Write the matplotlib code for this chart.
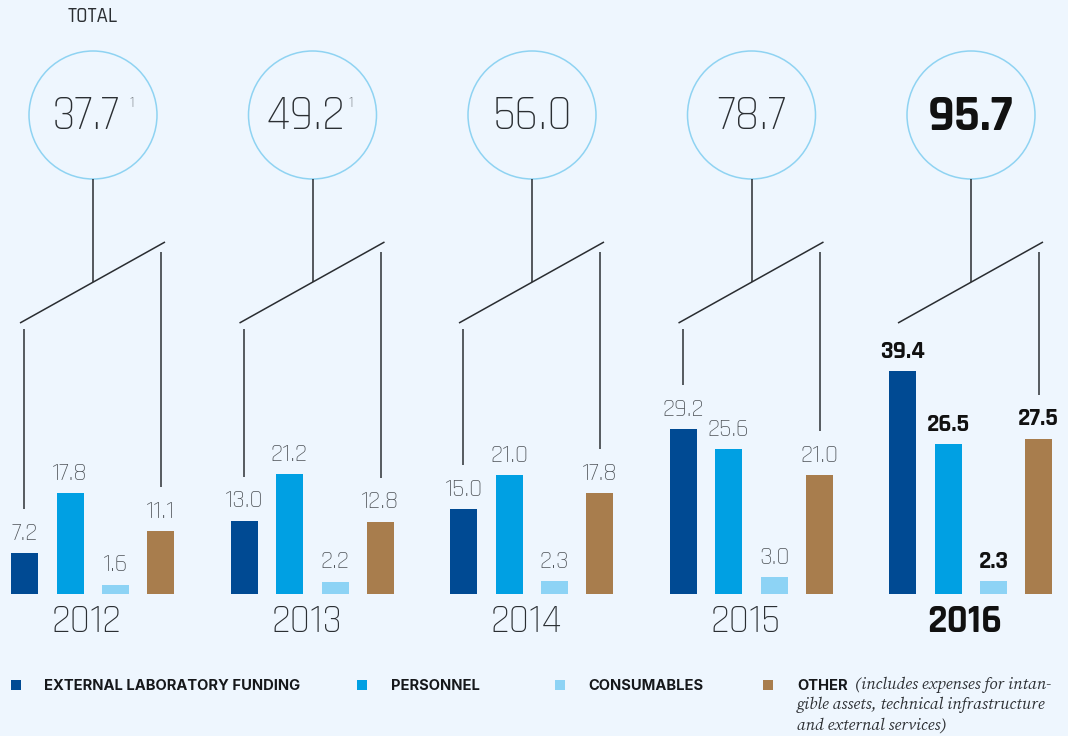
import matplotlib
matplotlib.use("Agg")
import matplotlib.pyplot as plt
from matplotlib.patches import Circle, Rectangle

# ---------------- data ----------------
years = ["2012", "2013", "2014", "2015", "2016"]
totals = [37.7, 49.2, 56.0, 78.7, 95.7]
total_notes = ["1", "1", "", "", ""]
external = [7.2, 13.0, 15.0, 29.2, 39.4]
personnel = [17.8, 21.2, 21.0, 25.6, 26.5]
consumables = [1.6, 2.2, 2.3, 3.0, 2.3]
other = [11.1, 12.8, 17.8, 21.0, 27.5]
legend_labels = ["EXTERNAL LABORATORY FUNDING", "PERSONNEL", "CONSUMABLES", "OTHER"]
other_note = ["(includes expenses for intan-",
              "gible assets, technical infrastructure",
              "and external services)"]
highlight_year = "2016"

# ---------------- style ----------------
W, H = 1068, 736
BG = "#eef6fe"
C_EXT = "#004a93"
C_PER = "#00a0e3"
C_CON = "#8dd3f5"
C_OTH = "#a87d4d"
colors = [C_EXT, C_PER, C_CON, C_OTH]
CIRCLE_C = "#8fd3f2"
LINE_C = "#2a2d31"
NUMF = ["Rajdhani", "Exo 2", "Titillium Web", "DejaVu Sans"]
SANSB = ["Inter", "Roboto", "DejaVu Sans"]
SERIF = ["Source Serif 4", "Source Serif Pro", "Noto Serif", "DejaVu Serif"]

BASE = 594.0      # pixel row of bar baseline
SCALE = 5.65      # pixels per unit
DX = 219.5        # group spacing (px)
OFFS = [24.5, 70.0, 115.5, 160.5]
BW = 27

fig = plt.figure(figsize=(W / 100, H / 100), dpi=100)
fig.patch.set_facecolor(BG)

# value axes for bars (x in px, y in data units)
axb = fig.add_axes([0, 0, 1, 1])
axb.set_xlim(0, W)
axb.set_ylim(-(H - BASE) / SCALE, BASE / SCALE)
axb.axis("off")
axb.patch.set_alpha(0)

# pixel axes for decorations
ax = fig.add_axes([0, 0, 1, 1], zorder=2)
ax.set_xlim(0, W)
ax.set_ylim(H, 0)
ax.axis("off")
ax.patch.set_alpha(0)

series = [external, personnel, consumables, other]
for k, (vals, col) in enumerate(zip(series, colors)):
    xs = [i * DX + OFFS[k] for i in range(len(years))]
    axb.bar(xs, vals, width=BW, color=col, edgecolor="none", align="center")
    for i, (x, v) in enumerate(zip(xs, vals)):
        hl = years[i] == highlight_year
        axb.text(x, v + 21 / SCALE, f"{v:.1f}", ha="center", va="center",
                 family=NUMF, fontsize=18.5 if not hl else 18,
                 fontweight="bold" if hl else 300,
                 color="#111111" if hl else "#4d5257")

for i, yr in enumerate(years):
    ox = i * DX
    hl = yr == highlight_year
    cx, cy, r = ox + 93, 115, 64
    ax.add_patch(Circle((cx, cy), r, fill=False, edgecolor=CIRCLE_C, lw=1.1))
    # total number
    note = total_notes[i]
    tx = cx - 7 if note else cx
    ax.text(tx, cy + 1, f"{totals[i]:.1f}", ha="center", va="center",
            family=NUMF, fontsize=37 if hl else 34.5, fontweight="bold" if hl else 300,
            color="#111111" if hl else "#2b2f33")
    if note:
        ax.text(cx + 36, cy - 12.5, note, ha="left", va="center",
                family=NUMF, fontsize=10.5, fontweight=300, color="#4d5257")
    # connectors
    x1, y1, x2, y2 = ox + 20, 323, ox + 165, 242
    ycx = y1 + (cx - x1) * (y2 - y1) / (x2 - x1)
    ax.plot([cx, cx], [cy + r, ycx], color=LINE_C, lw=1.1, solid_capstyle="butt")
    ax.plot([x1, x2], [y1, y2], color=LINE_C, lw=1.1, solid_capstyle="butt")
    top_l = BASE - external[i] * SCALE - 44
    if top_l > 329:
        ax.plot([ox + 24, ox + 24], [329, top_l], color="#4a4e53", lw=1.3,
                solid_capstyle="butt")
    top_r = BASE - other[i] * SCALE - 44
    if top_r > 252:
        ax.plot([ox + 161, ox + 161], [252, top_r], color="#4a4e53", lw=1.3,
                solid_capstyle="butt")
    # year label
    ax.text(ox + 87, 620, yr, ha="center", va="center", family=NUMF,
            fontsize=28.5, fontweight="bold" if hl else 300,
            color="#111111" if hl else "#2b2f33")

ax.text(93, 16, "TOTAL", ha="center", va="center", family=NUMF, fontsize=15,
        fontweight=500, color="#2b2f33")

# legend
leg_sq = [11, 357, 555, 763]
leg_tx = [44, 391, 588, 797]
for k in range(4):
    ax.add_patch(Rectangle((leg_sq[k], 680), 10, 10, color=colors[k], lw=0))
    ax.text(leg_tx[k], 685.5, legend_labels[k], ha="left", va="center",
            family=SANSB, fontsize=10.6, fontweight="bold", color="#16181b")
ax.text(855, 685, other_note[0], ha="left", va="center", family=SERIF,
        style="italic", fontsize=12, color="#2f3236")
ax.text(797, 705, other_note[1], ha="left", va="center", family=SERIF,
        style="italic", fontsize=12, color="#2f3236")
ax.text(797, 725, other_note[2], ha="left", va="center", family=SERIF,
        style="italic", fontsize=12, color="#2f3236")

fig.savefig("out.png", dpi=100, facecolor=BG)
